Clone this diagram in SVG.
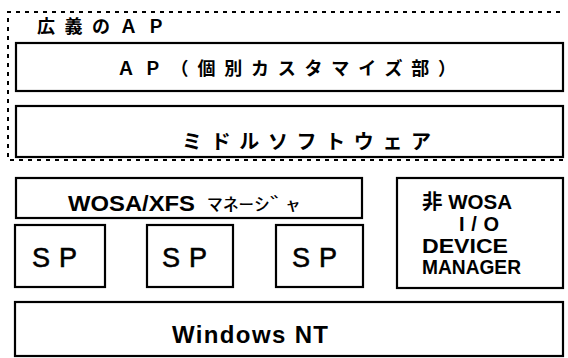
<svg xmlns="http://www.w3.org/2000/svg" width="568" height="358" viewBox="0 0 568 358">
<style>
.box{fill:#fff;stroke:#000;stroke-width:2.2}
.dot{fill:none;stroke:#000;stroke-width:2;stroke-dasharray:4 5}
.jp{font-family:"Noto Sans CJK JP","Liberation Sans",sans-serif;font-weight:700;fill:#000}
.lt{font-family:"Liberation Sans","Noto Sans CJK JP",sans-serif;font-weight:700;fill:#000}
.sp{font-family:"Liberation Sans","Noto Sans CJK JP",sans-serif;font-weight:400;fill:#000;stroke:#000;stroke-width:0.6}
</style>
<rect width="568" height="358" fill="#fff"/>
<g id="broad-ap">
<path class="dot" d="M560 12 H8 V160 H563"/>
<text class="jp" x="37" y="33" font-size="18" textLength="128" lengthAdjust="spacing">広義のＡＰ</text>
</g>
<g id="ap">
<rect class="box" x="16" y="43" width="547" height="48"/>
<text class="jp" x="117" y="75" font-size="18" textLength="339" lengthAdjust="spacing">ＡＰ（個別カスタマイズ部）</text>
</g>
<g id="middleware">
<rect class="box" x="16" y="106" width="547" height="51"/>
<text class="jp" x="182" y="149" font-size="20" textLength="249" lengthAdjust="spacing">ミドルソフトウェア</text>
</g>
<g id="wosa-xfs">
<rect class="box" x="16" y="178" width="346" height="40"/>
<text class="lt" y="211" font-size="22"><tspan x="68" textLength="127" lengthAdjust="spacingAndGlyphs">WOSA/XFS</tspan><tspan x="207" font-size="18" font-weight="400" textLength="94" lengthAdjust="spacingAndGlyphs">ﾏﾈｰｼﾞｬ</tspan></text>
</g>
<g id="non-wosa">
<rect class="box" x="397" y="178" width="166" height="110"/>
<text class="lt" x="422" y="209" font-size="20" textLength="90" lengthAdjust="spacingAndGlyphs">非 WOSA</text>
<text class="lt" x="459" y="231" font-size="20" textLength="40" lengthAdjust="spacing">I/O</text>
<text class="lt" x="422" y="253" font-size="20" textLength="86" lengthAdjust="spacingAndGlyphs">DEVICE</text>
<text class="lt" x="422" y="274" font-size="20" textLength="99" lengthAdjust="spacingAndGlyphs">MANAGER</text>
</g>
<g id="sp1">
<rect class="box" x="15" y="225" width="90" height="62"/>
<text class="sp" x="32" y="267" font-size="27" textLength="45" lengthAdjust="spacing">S P</text>
</g>
<g id="sp2">
<rect class="box" x="147" y="225" width="86" height="62"/>
<text class="sp" x="162" y="267" font-size="27" textLength="45" lengthAdjust="spacing">S P</text>
</g>
<g id="sp3">
<rect class="box" x="276" y="225" width="87" height="62"/>
<text class="sp" x="292" y="267" font-size="27" textLength="45" lengthAdjust="spacing">S P</text>
</g>
<g id="windows-nt">
<rect class="box" x="15" y="302" width="548" height="54"/>
<text class="lt" x="172" y="343" font-size="24" textLength="156" lengthAdjust="spacing">Windows NT</text>
</g>
<g id="connectors"></g>
</svg>
